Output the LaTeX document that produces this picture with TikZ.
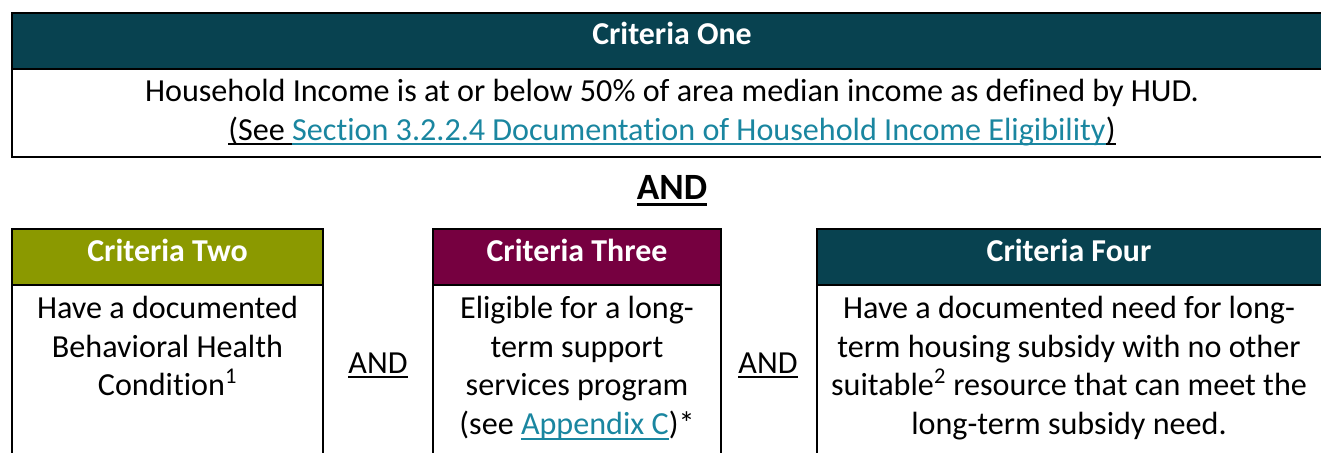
\documentclass[tikz,border=0pt]{standalone}
\usepackage{fontspec}
\setmainfont{Carlito}[Ligatures=NoCommon]
\definecolor{hdrteal}{HTML}{084250}
\definecolor{hdrolive}{HTML}{8B9900}
\definecolor{hdrmaroon}{HTML}{760040}
\definecolor{linkblue}{HTML}{1A86A0}
\newcommand\ulx[1]{\leavevmode\setbox0\hbox{#1}\rlap{\rule[-0.16em]{\wd0}{0.065em}}\box0}
\newcommand\ulbold[1]{\leavevmode\setbox0\hbox{#1}\rlap{\rule[-0.19em]{\wd0}{0.08em}}\box0}
\newcommand\cellx[1]{\begin{tabular}[t]{@{}c@{}}#1\end{tabular}}
\tikzset{
  frame/.style={draw=black,line width=1.5pt},
  hdrtext/.style={anchor=base,inner sep=0pt,text=white,font=\fontsize{23.9}{29}\selectfont\bfseries},
  bodytext/.style={anchor=base,inner sep=0pt,text=black,font=\fontsize{24.1}{29}\selectfont},
  andtext/.style={anchor=base,inner sep=0pt,text=black,font=\fontsize{24.1}{29}\selectfont},
  bigand/.style={anchor=base,inner sep=0pt,text=black,font=\fontsize{27.8}{32}\selectfont\bfseries}
}
\begin{document}
\begin{tikzpicture}[x=0.75pt,y=-0.75pt]
\useasboundingbox (0,0) rectangle (1321,453);
\clip (0,0) rectangle (1321,453);
% top box
\fill[hdrteal] (12,13) rectangle (1332,69);
\draw[frame] (12,13) rectangle (1332,156.5);
\draw[frame] (12,69) -- (1332,69);
% bottom boxes
\fill[hdrolive] (12,229) rectangle (323,285);
\draw[frame] (12,470) -- (12,229) -- (323,229) -- (323,470);
\draw[frame] (12,285) -- (323,285);
\fill[hdrmaroon] (433,229) rectangle (721,285);
\draw[frame] (433,470) -- (433,229) -- (721,229) -- (721,470);
\draw[frame] (433,285) -- (721,285);
\fill[hdrteal] (817,229) rectangle (1321.5,285);
\draw[frame] (817,470) -- (817,229) -- (1321.5,229) -- (1321.5,470);
\draw[frame] (817,285) -- (1321.5,285);
% texts
\node[hdrtext] (h1) at (672,44.5) {Criteria One};
\node[bodytext] (t1) at (672,101.5) {\cellx{Household Income is at or below 50\% of area median income as defined by HUD.\\
\ulx{(See }\textcolor{linkblue}{\ulx{Section 3.2.2.4 Documentation of Household Income Eligibility}}\ulx{)}}};
\node[bigand] (and0) at (672,199) {\ulbold{AND}};
\node[hdrtext] (h2) at (167.5,261) {Criteria Two};
\node[hdrtext] (h3) at (577,261) {Criteria Three};
\node[hdrtext] (h4) at (1069,261) {Criteria Four};
\node[bodytext] (t2) at (167.5,318.5) {\cellx{Have a documented\\Behavioral Health\\Condition\textsuperscript{1}}};
\node[bodytext] (t3) at (577,318.5) {\cellx{Eligible for a long-\\term support\\services program\\(see \textcolor{linkblue}{\ulx{Appendix C}})*}};
\node[bodytext] (t4) at (1069,318.5) {\cellx{Have a documented need for long-\\term housing subsidy with no other\\suitable\textsuperscript{2} resource that can meet the\\long-term subsidy need.}};
\node[andtext] (and1) at (378,373) {\ulx{AND}};
\node[andtext] (and2) at (768,373) {\ulx{AND}};
\end{tikzpicture}
\end{document}
